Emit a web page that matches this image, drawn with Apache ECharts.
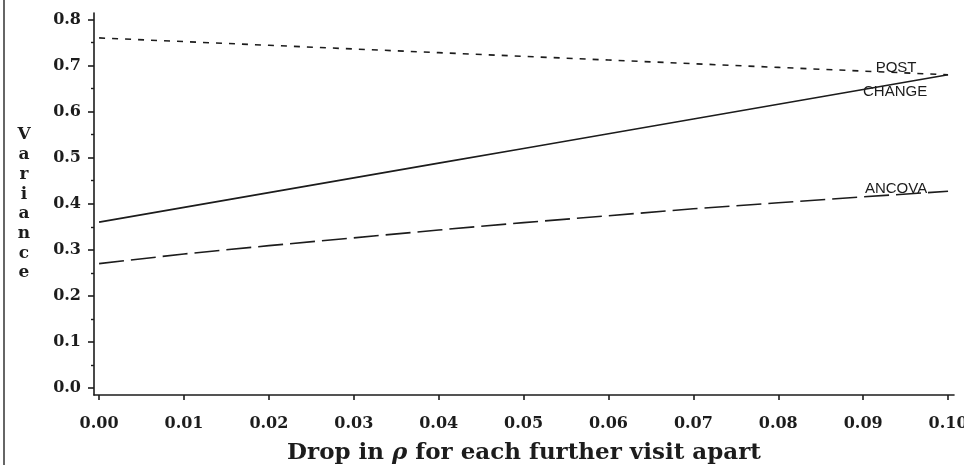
<!DOCTYPE html>
<html>
<head>
<meta charset="utf-8">
<script src="https://cdn.jsdelivr.net/npm/echarts@6/dist/echarts.min.js"></script>
<style>
  html, body { margin: 0; padding: 0; background: #ffffff; }
  #chart { width: 964px; height: 465px; }
</style>
</head>
<body>
<div id="chart"></div>
<script>
// Drop in rho per further visit apart (x) and the variance of each estimator (y)
const drops = [0.00, 0.01, 0.02, 0.03, 0.04, 0.05, 0.06, 0.07, 0.08, 0.09, 0.10];
const postVar   = [0.760, 0.752, 0.744, 0.736, 0.728, 0.720, 0.712, 0.704, 0.696, 0.688, 0.680];
const changeVar = [0.360, 0.392, 0.424, 0.456, 0.488, 0.520, 0.552, 0.584, 0.616, 0.648, 0.680];
const ancovaVar = [0.270, 0.291, 0.309, 0.326, 0.343, 0.359, 0.374, 0.389, 0.402, 0.415, 0.427];

// Tick positions
const xTicks = [0.00, 0.01, 0.02, 0.03, 0.04, 0.05, 0.06, 0.07, 0.08, 0.09, 0.10];
const yTicks = [0.0, 0.1, 0.2, 0.3, 0.4, 0.5, 0.6, 0.7, 0.8];
const yMinorTicks = [0.05, 0.15, 0.25, 0.35, 0.45, 0.55, 0.65, 0.75];

// Curve names written next to the right-hand end of each curve
const curveNames = ['POST', 'CHANGE', 'ANCOVA'];

const ink = '#1c1c1c';
const serif = 'DejaVu Serif';
const yMin = -0.0152, yMax = 0.8141;
const xMin = -0.0006, xMax = 0.1007;

const pairs = (ys) => drops.map((x, i) => [x, ys[i]]);
const gridBox = { left: 94, right: 10, top: 13, bottom: 70, containLabel: false, outerBoundsMode: 'none' };

const chart = echarts.init(document.getElementById('chart'), null, { renderer: 'canvas' });

chart.setOption({
  animation: false,
  backgroundColor: '#ffffff',
  grid: [Object.assign({}, gridBox), Object.assign({}, gridBox)],
  xAxis: [
    {
      type: 'value',
      gridIndex: 0,
      min: xMin,
      max: xMax,
      name: '{t|Drop in }{r|ρ}{t| for each further visit apart}',
      nameLocation: 'middle',
      nameGap: 47,
      nameTextStyle: {
        rich: {
          t: { fontFamily: serif, fontWeight: 'bold', fontSize: 23, color: ink },
          r: { fontFamily: serif, fontWeight: 'bold', fontStyle: 'italic', fontSize: 23, color: ink }
        }
      },
      axisLine: { show: true, onZero: false, lineStyle: { color: ink, width: 1.6 } },
      axisTick: { show: true, inside: false, length: 5, customValues: xTicks, lineStyle: { color: ink, width: 1.6 } },
      axisLabel: {
        customValues: xTicks,
        formatter: (v) => v.toFixed(2),
        fontFamily: serif, fontWeight: 'bold', fontSize: 16, color: ink, margin: 21
      },
      splitLine: { show: false }
    },
    {
      type: 'value',
      gridIndex: 1,
      min: xMin,
      max: xMax,
      show: false
    }
  ],
  yAxis: [
    {
      type: 'value',
      gridIndex: 0,
      min: yMin,
      max: yMax,
      name: 'V\na\nr\ni\na\nn\nc\ne',
      nameLocation: 'middle',
      nameRotate: 0,
      nameGap: 70,
      nameTextStyle: { fontFamily: serif, fontWeight: 'bold', fontSize: 17, lineHeight: 19.7, color: ink, align: 'center' },
      axisLine: { show: true, onZero: false, lineStyle: { color: ink, width: 1.6 } },
      axisTick: { show: true, length: 6, customValues: yTicks, lineStyle: { color: ink, width: 1.6 } },
      axisLabel: {
        customValues: yTicks,
        formatter: (v) => v.toFixed(1),
        fontFamily: serif, fontWeight: 'bold', fontSize: 16, color: ink, margin: 13
      },
      splitLine: { show: false }
    },
    {
      // minor ticks between the labelled ones
      type: 'value',
      gridIndex: 1,
      position: 'left',
      offset: 0,
      min: yMin,
      max: yMax,
      axisLine: { show: false, onZero: false },
      axisTick: { show: true, inside: false, length: 3, customValues: yMinorTicks, lineStyle: { color: ink, width: 1.4 } },
      axisLabel: { show: false },
      splitLine: { show: false }
    }
  ],
  series: [
    {
      name: curveNames[0],
      type: 'line',
      data: pairs(postVar),
      showSymbol: false,
      lineStyle: { color: ink, width: 1.6, type: [6, 7] }
    },
    {
      name: curveNames[1],
      type: 'line',
      data: pairs(changeVar),
      showSymbol: false,
      lineStyle: { color: ink, width: 1.7, type: 'solid' }
    },
    {
      name: curveNames[2],
      type: 'line',
      data: pairs(ancovaVar),
      showSymbol: false,
      lineStyle: { color: ink, width: 1.6, type: [25, 7] }
    }
  ]
});

// Place each curve's name just left of its last point
const last = drops.length - 1;
const ends = [postVar[last], changeVar[last], ancovaVar[last]];
const shifts = [[-52, -6.5], [-53, 17], [-52, -2]];
const nameTexts = curveNames.map((label, i) => {
  const p = chart.convertToPixel({ gridIndex: 0 }, [drops[last], ends[i]]);
  return {
    type: 'text',
    x: p[0] + shifts[i][0],
    y: p[1] + shifts[i][1],
    z: 100,
    style: {
      text: label,
      fontFamily: 'Liberation Sans',
      fontSize: 15,
      fill: ink,
      align: 'center',
      verticalAlign: 'middle'
    }
  };
});

chart.setOption({
  graphic: [
    {
      type: 'line',
      shape: { x1: 4, y1: 0, x2: 4, y2: 465 },
      style: { stroke: '#666666', lineWidth: 2 }
    }
  ].concat(nameTexts)
});
</script>
</body>
</html>
